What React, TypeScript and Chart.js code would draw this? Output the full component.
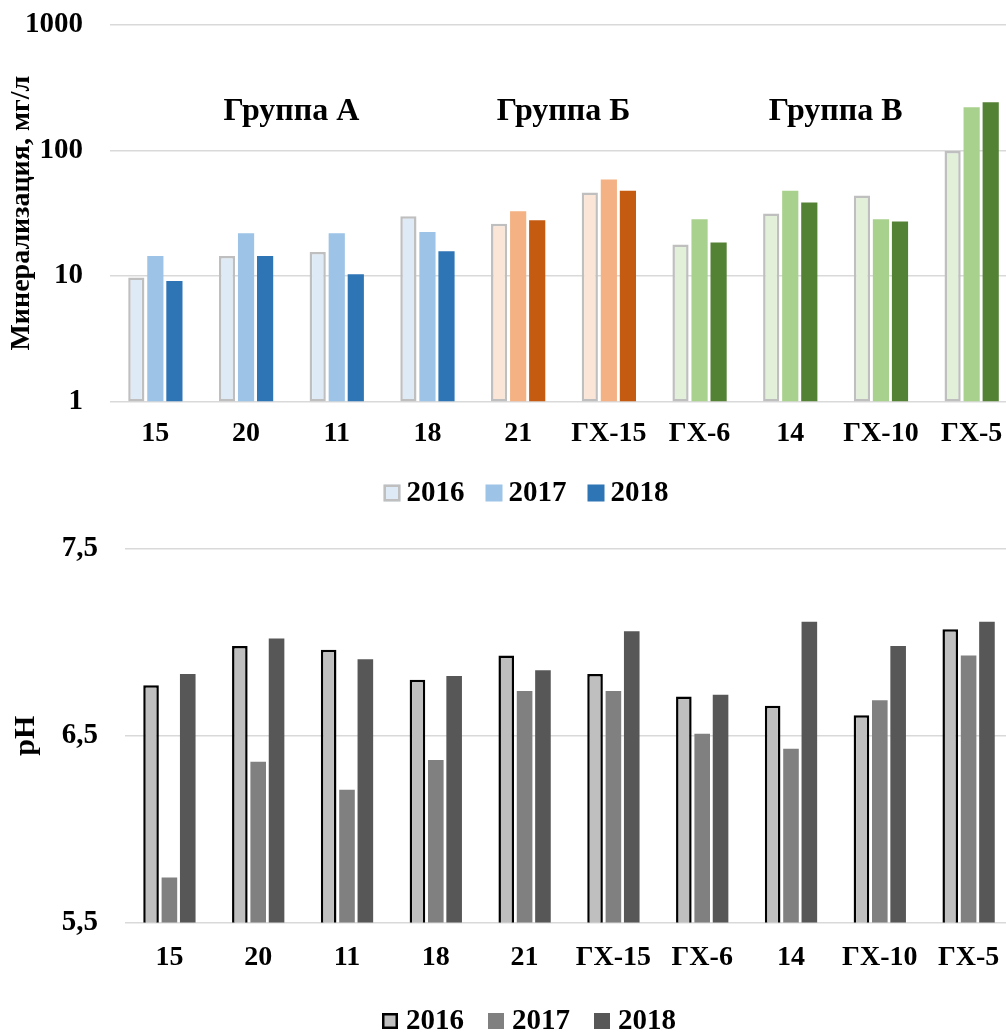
import React, { useEffect, useRef } from 'react';
import { Chart, registerables } from 'chart.js';

Chart.register(...registerables);

const FONT = '"Liberation Serif", "Times New Roman", serif';

// ---- data ----
const categories = ['15', '20', '11', '18', '21', 'ГХ-15', 'ГХ-6', '14', 'ГХ-10', 'ГХ-5'];
const years = ['2016', '2017', '2018'];

const min2016 = [9.7, 14.4, 15.5, 29.9, 26, 46.3, 17.8, 31.5, 43.8, 99];
const min2017 = [14.4, 21.9, 21.9, 22.4, 32.8, 58.8, 28.3, 47.7, 28.3, 221];
const min2018 = [9.1, 14.4, 10.3, 15.7, 27.8, 47.7, 18.5, 38.5, 27.2, 242];

const ph2016 = [6.77, 6.98, 6.96, 6.8, 6.93, 6.83, 6.71, 6.66, 6.61, 7.07];
const ph2017 = [5.74, 6.36, 6.21, 6.37, 6.74, 6.74, 6.51, 6.43, 6.69, 6.93];
const ph2018 = [6.83, 7.02, 6.91, 6.82, 6.85, 7.06, 6.72, 7.11, 6.98, 7.11];

const groupNames = ['Группа А', 'Группа Б', 'Группа В'];
const groupFirst = [0, 4, 6];
const groupLast = [3, 5, 9];
const groupOf = [0, 0, 0, 0, 1, 1, 2, 2, 2, 2];
const groupLabelValue = 205;

const minTicks = [1, 10, 100, 1000];
const phTicks = [5.5, 6.5, 7.5];

const minTitle = 'Минерализация, мг/л';
const phTitle = 'pH';

// ---- styles ----
const palette = [
  ['#DEEBF7', '#9DC3E6', '#2E75B6'],
  ['#FBE5D6', '#F4B183', '#C55A11'],
  ['#E2F0D9', '#A9D18E', '#548235'],
];
const lightBorder = '#BFBFBF';
const phColors = ['#BFBFBF', '#808080', '#575757'];
const gridColor = '#D9D9D9';

const legendPlugin = {
  id: 'customLegend',
  afterDraw(chart: any, _args: any, opts: any) {
    const ctx = chart.ctx;
    const items = opts.items || [];
    ctx.save();
    ctx.font = `bold ${opts.fontSize}px ${FONT}`;
    const widths = items.map((it: any) => opts.box + opts.gap + ctx.measureText(it.text).width);
    const total = widths.reduce((a: number, b: number) => a + b, 0) + opts.spacing * (items.length - 1);
    let x = opts.cx - total / 2;
    const y = chart.height - opts.fromBottom;
    items.forEach((it: any, i: number) => {
      ctx.fillStyle = it.fill;
      ctx.fillRect(x, y - opts.box / 2, opts.box, opts.box);
      if (it.stroke) {
        ctx.lineWidth = it.lw;
        ctx.strokeStyle = it.stroke;
        ctx.strokeRect(x + it.lw / 2, y - opts.box / 2 + it.lw / 2, opts.box - it.lw, opts.box - it.lw);
      }
      ctx.fillStyle = '#000';
      ctx.textBaseline = 'middle';
      ctx.textAlign = 'left';
      ctx.fillText(it.text, x + opts.box + opts.gap, y + 1);
      x += widths[i] + opts.spacing;
    });
    ctx.restore();
  },
};

const groupLabelPlugin = {
  id: 'groupLabels',
  afterDatasetsDraw(chart: any, _args: any, opts: any) {
    const ctx = chart.ctx;
    const xs = chart.scales.x;
    const ys = chart.scales.y;
    ctx.save();
    ctx.font = `bold ${opts.fontSize}px ${FONT}`;
    ctx.fillStyle = '#000';
    ctx.textAlign = 'center';
    ctx.textBaseline = 'middle';
    groupNames.forEach((name, i) => {
      const cx = (xs.getPixelForValue(groupFirst[i]) + xs.getPixelForValue(groupLast[i])) / 2;
      ctx.fillText(name, cx, ys.getPixelForValue(opts.value));
    });
    ctx.restore();
  },
};

const noSidePadding = (scale: any) => { scale.paddingLeft = 0; scale.paddingRight = 0; };

function MineralChart() {
  const ref = useRef<HTMLCanvasElement>(null);
  useEffect(() => {
    const series = [min2016, min2017, min2018];
    const chart = new Chart(ref.current as HTMLCanvasElement, {
      type: 'bar',
      data: {
        labels: categories,
        datasets: series.map((vals, s) => ({
          label: years[s],
          data: vals,
          backgroundColor: categories.map((_, i) => palette[groupOf[i]][s]),
          borderColor: s === 0 ? lightBorder : 'rgba(0,0,0,0)',
          borderWidth: s === 0 ? 2.5 : 0,
          borderSkipped: false,
          categoryPercentage: 0.63,
          barPercentage: 0.85,
        })),
      },
      options: {
        responsive: false,
        animation: false,
        layout: { padding: { top: 25, bottom: 53, left: 0, right: 0 } },
        plugins: {
          legend: { display: false },
          tooltip: { enabled: false },
          customLegend: {
            items: [
              { text: years[0], fill: palette[0][0], stroke: lightBorder, lw: 2.5 },
              { text: years[1], fill: palette[0][1] },
              { text: years[2], fill: palette[0][2] },
            ],
            cx: 526, fromBottom: 27, box: 17, gap: 6, spacing: 21, fontSize: 29,
          },
          groupLabels: { value: groupLabelValue, fontSize: 32 },
        } as any,
        scales: {
          x: {
            afterFit: noSidePadding,
            grid: { display: false, drawTicks: false },
            border: { display: false },
            ticks: { color: '#000', font: { family: FONT, size: 28, weight: 'bold' }, padding: 16, maxRotation: 0, autoSkip: false },
          },
          y: {
            type: 'logarithmic',
            min: 1,
            max: 1000,
            afterBuildTicks: (scale: any) => { scale.ticks = minTicks.map((v) => ({ value: v })); },
            afterFit: (scale: any) => { scale.width = 110; scale.paddingTop = 0; scale.paddingBottom = 0; },
            grid: { color: gridColor, lineWidth: 1.5, drawTicks: false },
            border: { display: false },
            ticks: { color: '#000', font: { family: FONT, size: 29, weight: 'bold' }, padding: 27, callback: (v: any) => String(v) },
            title: { display: true, text: minTitle, color: '#000', font: { family: FONT, size: 28, weight: 'bold' }, padding: { top: 5, bottom: 0 } },
          },
        },
      },
      plugins: [legendPlugin, groupLabelPlugin],
    } as any);
    return () => chart.destroy();
  }, []);
  return <canvas ref={ref} width={1017} height={520} style={{ display: 'block' }} />;
}

function PhChart() {
  const ref = useRef<HTMLCanvasElement>(null);
  useEffect(() => {
    const series = [ph2016, ph2017, ph2018];
    const chart = new Chart(ref.current as HTMLCanvasElement, {
      type: 'bar',
      data: {
        labels: categories,
        datasets: series.map((vals, s) => ({
          label: years[s],
          data: vals,
          backgroundColor: phColors[s],
          borderColor: s === 0 ? '#000' : 'rgba(0,0,0,0)',
          borderWidth: s === 0 ? 2.5 : 0,
          borderSkipped: false,
          categoryPercentage: 0.62,
          barPercentage: 0.85,
        })),
      },
      options: {
        responsive: false,
        animation: false,
        layout: { padding: { top: 29, bottom: 38, left: 0, right: 0 } },
        plugins: {
          legend: { display: false },
          tooltip: { enabled: false },
          customLegend: {
            items: [
              { text: years[0], fill: phColors[0], stroke: '#000', lw: 2.5 },
              { text: years[1], fill: phColors[1] },
              { text: years[2], fill: phColors[2] },
            ],
            cx: 529, fromBottom: 11, box: 16, gap: 8, spacing: 24, fontSize: 29,
          },
        } as any,
        scales: {
          x: {
            afterFit: noSidePadding,
            grid: { display: false, drawTicks: false },
            border: { display: false },
            ticks: { color: '#000', font: { family: FONT, size: 28, weight: 'bold' }, padding: 19, maxRotation: 0, autoSkip: false },
          },
          y: {
            min: 5.5,
            max: 7.5,
            afterBuildTicks: (scale: any) => { scale.ticks = phTicks.map((v) => ({ value: v })); },
            afterFit: (scale: any) => { scale.width = 125; scale.paddingTop = 0; scale.paddingBottom = 0; },
            grid: { color: gridColor, lineWidth: 1.5, drawTicks: false },
            border: { display: false },
            ticks: { color: '#000', font: { family: FONT, size: 29, weight: 'bold' }, padding: 27, callback: (v: any) => Number(v).toFixed(1).replace('.', ',') },
            title: { display: true, text: phTitle, color: '#000', font: { family: FONT, size: 30, weight: 'bold' }, padding: { top: 8, bottom: 0 } },
          },
        },
      },
      plugins: [legendPlugin],
    } as any);
    return () => chart.destroy();
  }, []);
  return <canvas ref={ref} width={1013} height={512} style={{ display: 'block' }} />;
}

export default function App() {
  return (
    <div style={{ position: 'absolute', left: 0, top: 0, width: 1006, height: 1032, overflow: 'hidden', background: '#fff' }}>
      <MineralChart />
      <PhChart />
    </div>
  );
}
